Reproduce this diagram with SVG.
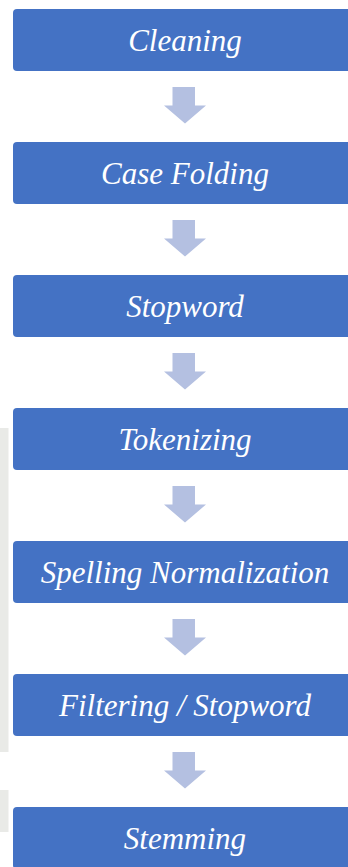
<svg xmlns="http://www.w3.org/2000/svg" width="348" height="867" viewBox="0 0 348 867">
<style>
.box{fill:#4472C4;}
.lbl{font-family:"Liberation Serif","Times New Roman",serif;font-style:italic;font-size:31px;fill:#ffffff;text-anchor:middle;}
.arr{fill:#B4C0E1;}
</style>
<defs>
<path id="dn" d="M172.5,87 H195 V105.5 H206 L185,123.5 L164,105.5 H172.5 Z"/>
</defs>
<rect width="348" height="867" fill="#ffffff"/>
<rect x="0" y="428" width="8.5" height="324" fill="#E9EAE7"/>
<rect x="0" y="790" width="8.5" height="42" fill="#E9EAE7"/>
<g id="connectors">
<use href="#dn" class="arr"/>
<use href="#dn" class="arr" y="133"/>
<use href="#dn" class="arr" y="266"/>
<use href="#dn" class="arr" y="399"/>
<use href="#dn" class="arr" y="532"/>
<use href="#dn" class="arr" y="665"/>
</g>
<g id="n1"><rect class="box" x="13" y="9" width="345" height="62" rx="4"/><text class="lbl" x="185" y="51">Cleaning</text></g>
<g id="n2"><rect class="box" x="13" y="142" width="345" height="62" rx="4"/><text class="lbl" x="185" y="184">Case Folding</text></g>
<g id="n3"><rect class="box" x="13" y="275" width="345" height="62" rx="4"/><text class="lbl" x="185" y="317">Stopword</text></g>
<g id="n4"><rect class="box" x="13" y="408" width="345" height="62" rx="4"/><text class="lbl" x="185" y="450">Tokenizing</text></g>
<g id="n5"><rect class="box" x="13" y="541" width="345" height="62" rx="4"/><text class="lbl" x="185" y="583">Spelling Normalization</text></g>
<g id="n6"><rect class="box" x="13" y="674" width="345" height="62" rx="4"/><text class="lbl" x="185" y="716">Filtering / Stopword</text></g>
<g id="n7"><rect class="box" x="13" y="807" width="345" height="62" rx="4"/><text class="lbl" x="185" y="849">Stemming</text></g>
</svg>
